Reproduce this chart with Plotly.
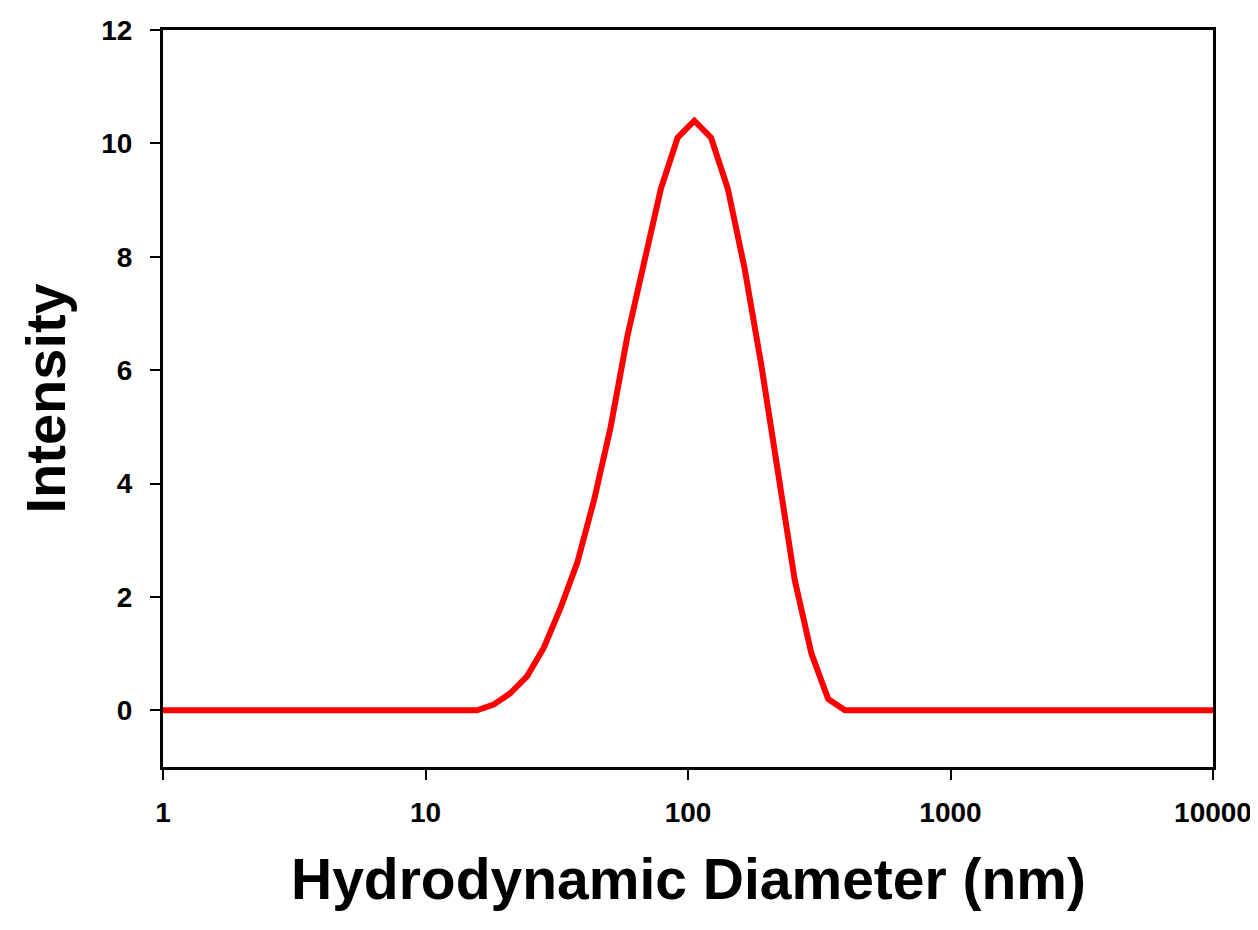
import plotly.graph_objects as go

# Data
diameter_nm = [1, 15.69, 18.17, 21.04, 24.36, 28.21, 32.67, 37.84, 43.82, 50.75,
               58.77, 68.06, 78.82, 91.28, 105.7, 122.4, 141.8, 164.2, 190.1,
               220.2, 255.0, 295.3, 342.0, 396.1, 10000]
intensity = [0, 0, 0.1, 0.3, 0.6, 1.1, 1.8, 2.6, 3.7, 5.0,
             6.6, 7.9, 9.2, 10.1, 10.4, 10.1, 9.2, 7.8, 6.1,
             4.2, 2.3, 1.0, 0.2, 0, 0]
x_tickvals = [1, 10, 100, 1000, 10000]
x_ticktext = ["1", "10", "100", "1000", "10000"]
y_tickvals = [0, 2, 4, 6, 8, 10, 12]

FONT = "Liberation Sans, Arial, sans-serif"

fig = go.Figure()
fig.add_trace(go.Scatter(
    x=diameter_nm, y=intensity, mode="lines",
    line=dict(color="#ff0000", width=6),
    showlegend=False, hoverinfo="skip"))

axis_common = dict(
    showgrid=False, zeroline=False, showline=True, linecolor="black",
    linewidth=3, mirror=True, ticks="outside", tickcolor="black",
    tickwidth=2, ticklen=10,
    tickfont=dict(family=FONT, size=28, color="black", weight="bold"),
)

fig.update_xaxes(type="log", range=[0, 4], tickvals=x_tickvals,
                 ticktext=x_ticktext, ticklabelstandoff=8, **axis_common)
fig.update_yaxes(range=[-1, 12], tickvals=y_tickvals,
                 ticklabelstandoff=12, **axis_common)

fig.add_annotation(text="Hydrodynamic Diameter (nm)", xref="paper", yref="paper",
                   x=0.5, y=0, xanchor="center", yanchor="middle", yshift=-112,
                   showarrow=False,
                   font=dict(family=FONT, size=57, color="black", weight="bold"))
fig.add_annotation(text="Intensity", xref="paper", yref="paper",
                   x=0, y=0.5, xanchor="center", yanchor="middle", xshift=-118,
                   textangle=-90, showarrow=False,
                   font=dict(family=FONT, size=56, color="black", weight="bold"))

fig.update_layout(
    width=1258, height=930,
    margin=dict(l=155, r=53, t=22, b=171, autoexpand=False),
    paper_bgcolor="white", plot_bgcolor="white",
)

fig.write_html("out.html")
